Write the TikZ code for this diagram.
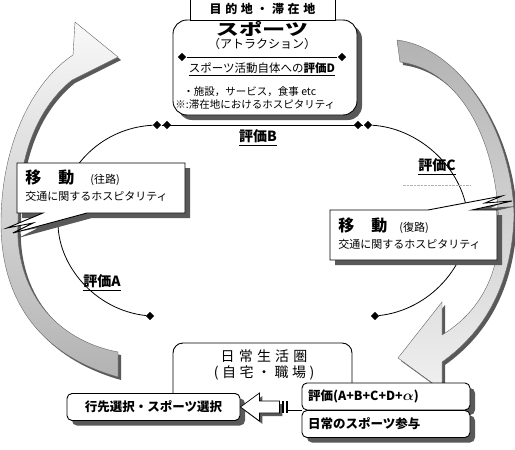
\documentclass[tikz,border=0pt]{standalone}
\usepackage{amsmath}
\usepackage{fontspec}
\setmainfont{Noto Sans CJK JP}
\usepackage{graphicx}
\usetikzlibrary{shapes.geometric,shadows}

\begin{document}
\begin{tikzpicture}[x=1pt, y=-1pt, line width=0.8pt,
    dia/.style={diamond, fill=black, inner sep=0pt, minimum size=8.5pt},
    shd/.style={drop shadow={shadow xshift=#1, shadow yshift=-#1, fill=black!65, opacity=1}},
    callout/.style={draw=black, fill=white, line width=0.9pt, shd=5pt},
    bbox/.style={draw=black, fill=white, line width=0.9pt, rounded corners=5pt, shd=5pt,
      minimum height=27pt, inner xsep=6pt, font=\bfseries\fontsize{12.5pt}{12pt}\selectfont},
    evl/.style={font=\bfseries\fontsize{14pt}{14pt}\selectfont},
    txt/.style={inner sep=0pt, font=\fontsize{10.5pt}{12pt}\selectfont}]
    \useasboundingbox (0,0) rectangle (515,450);
    \clip (0,0) rectangle (515,450);

    % Curved arrows
    \shade[top color=gray!5, bottom color=gray!60, shd=3pt, draw=black!60, line width=0.4pt]
      (118,377) .. controls (40,355) and (0,300) .. (1,220)
      .. controls (2,140) and (35,80) .. (73,55) -- (75,22) -- (118,57) -- (72,80)
      .. controls (35,110) and (18,160) .. (18,220)
      .. controls (14,290) and (55,340) .. (118,352) -- cycle;
    \shade[top color=gray!60, bottom color=gray!12, shd=3pt, draw=black!60, line width=0.4pt]
      (397,40) .. controls (460,48) and (512,130) .. (514,215)
      .. controls (512,290) and (480,335) .. (442,362) -- (442,390) -- (398,358) -- (442,302) -- (442,335)
      .. controls (475,315) and (499,280) .. (499,230)
      .. controls (498,140) and (460,70) .. (400,62) -- cycle;

    % Diamonds and the evaluation loop
    \node[dia] (dBl1) at (157,125) {};
    \node[dia] (dBl2) at (167,125) {};
    \node[dia] (dBr1) at (358,125) {};
    \node[dia] (dBr2) at (368,125) {};
    \node[dia] (dA) at (150,316) {};
    \node[dia] (dC) at (375,316) {};
    \draw (dBl1) -- (dBr2);
    \draw (dBl1) .. controls (100,128) and (60,170) .. (58,221)
      .. controls (57,265) and (95,310) .. (dA);
    \draw (dBr2) .. controls (420,128) and (466,170) .. (468,221)
      .. controls (469,265) and (430,310) .. (dC);

    % Transport (outward / return)
    \draw[callout] (17,163) -- (185,163) -- (185,213) -- (87,213) -- (13,233) -- (33,223)
      -- (7,228) -- (43,213) -- (17,213) -- cycle;
    \node[anchor=west, inner sep=0pt, font=\bfseries\fontsize{16pt}{16pt}\selectfont] (goL) at (25,178)
      {移\hspace{17pt}動\hspace{16pt}{\mdseries\fontsize{11pt}{11pt}\selectfont(往路)}};
    \node[anchor=west, inner sep=0pt, font=\fontsize{11pt}{11pt}\selectfont] (hospL) at (25,196)
      {交通に関するホスピタリティ};
    \draw[callout] (330,210) -- (428,210) -- (502,196) -- (485,203) -- (512,201) -- (472,210)
      -- (497,210) -- (497,260) -- (330,260) -- cycle;
    \node[anchor=west, inner sep=0pt, font=\bfseries\fontsize{16pt}{16pt}\selectfont] (goR) at (338,226)
      {移\hspace{17pt}動\hspace{12pt}{\mdseries\fontsize{11pt}{11pt}\selectfont(復路)}};
    \node[anchor=west, inner sep=0pt, font=\fontsize{11pt}{11pt}\selectfont] (hospR) at (338,244)
      {交通に関するホスピタリティ};

    % Destination
    \node[callout, rounded corners=14pt, minimum width=184pt, minimum height=95pt] (spot) at (265,67.5) {};
    \node[draw, fill=white, line width=0.9pt, minimum width=145pt, minimum height=22pt,
      font=\bfseries\fontsize{12pt}{12pt}\selectfont\addfontfeatures{LetterSpace=30}] (goal) at (262.5,9) {目的地・滞在地};
    \node (sport) at (262,29) {\scalebox{1.45}[1]{\bfseries\fontsize{16pt}{16pt}\selectfont スポーツ}};
    \node[font=\fontsize{12pt}{12pt}\selectfont] (attr) at (262,44) {（アトラクション）};
    \node[dia] (dDl) at (182,57) {};
    \node[dia] (dDr) at (342,57) {};
    \draw (dDl) -- (dDr);
    \node[font=\fontsize{11.5pt}{12pt}\selectfont] (evD) at (262,69) {\underline{スポーツ活動自体への\textbf{評価D}}};
    \node[txt, anchor=west] (fac) at (183,92) {・施設，サービス，食事 etc};
    \node[txt, anchor=west] (hosp) at (175,105) {※:滞在地におけるホスピタリティ};

    % Evaluations
    \node[evl] (evA) at (102,283) {\underline{評価A}};
    \node[evl] (evB) at (258,138) {\underline{評価B}};
    \node[evl] (evC) at (437,167) {\underline{評価C}};
    \draw[gray!60, line width=0.4pt, densely dotted] (evC.south west) ++(-12,6) -- ++(68,0);

    % Daily life
    \draw[line width=0.9pt, rounded corners=10pt] (173,393) |- (352,343) -- (352,383);
    \node[font=\fontsize{14pt}{14pt}\selectfont\addfontfeatures{LetterSpace=30}] (home) at (264,356) {日常生活圏};
    \node[font=\fontsize{14pt}{14pt}\selectfont\addfontfeatures{LetterSpace=25}] (work) at (264,373) {(自宅・職場)};
    \node[bbox, minimum width=173pt] (dest) at (153.5,407) {行先選択・スポーツ選択};
    \node[bbox, text width=156pt, align=left] (eval) at (386,396.5)
      {評価(A+B+C+D+{\fontsize{15pt}{15pt}\selectfont$\boldsymbol{\alpha}$})};
    \node[bbox, text width=156pt, align=left] (part) at (386,424) {日常のスポーツ参与};

    % Feedback arrow
    \draw[fill=white, line width=0.7pt, shd=3pt] (dest.east) -- ++(19,-14) -- ++(0,8) -- ++(20,0)
      -- ++(0,12) -- ++(-20,0) -- ++(0,8) -- cycle;
    \fill (282,401) rectangle (284,413);
    \fill (286,401) rectangle (288,413);
    \draw (eval.south west) -- ++(-14,0);
\end{tikzpicture}
\end{document}
